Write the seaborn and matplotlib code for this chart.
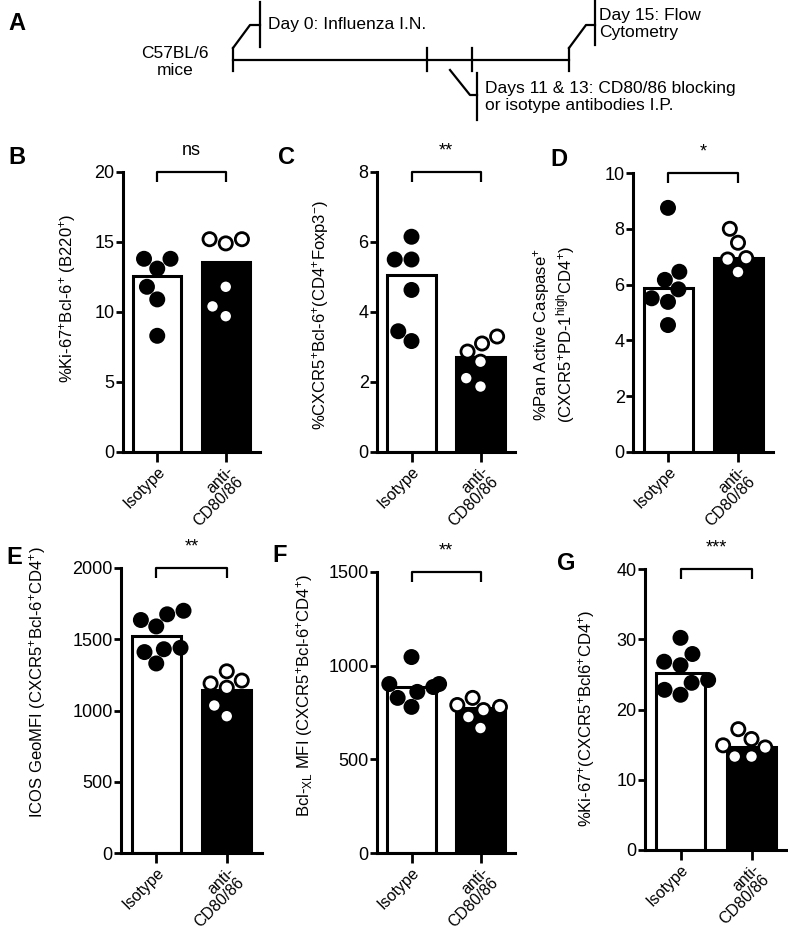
import matplotlib
matplotlib.use('Agg')
import matplotlib.pyplot as plt
import numpy as np
import pandas as pd
import seaborn as sns

groups = ['Isotype', 'anti-\nCD80/86']

# B: %Ki-67+Bcl-6+ (B220+)
b_iso = [13.8, 13.8, 13.1, 11.8, 10.9, 8.3]
b_anti = [15.2, 14.9, 15.2, 11.8, 10.4, 9.7]
b_bars = [12.6, 13.6]
b_ticks = [0, 5, 10, 15, 20]

# C: %CXCR5+Bcl-6+ (CD4+Foxp3-)
c_iso = [6.15, 5.5, 5.5, 4.63, 3.45, 3.17]
c_anti = [3.3, 3.1, 2.87, 2.58, 2.11, 1.87]
c_bars = [5.05, 2.72]
c_ticks = [0, 2, 4, 6, 8]

# D: %Pan Active Caspase+
d_iso = [8.75, 6.46, 6.17, 5.83, 5.51, 5.38, 4.55]
d_anti = [8.0, 7.5, 6.95, 6.9, 6.45]
d_bars = [5.88, 6.95]
d_ticks = [0, 2, 4, 6, 8, 10]

# E: ICOS GeoMFI
e_iso = [1700, 1675, 1635, 1590, 1440, 1430, 1410, 1330]
e_anti = [1275, 1210, 1190, 1160, 1035, 960]
e_bars = [1520, 1145]
e_ticks = [0, 500, 1000, 1500, 2000]

# F: Bcl-XL MFI
f_iso = [1046, 902, 902, 886, 860, 828, 780]
f_anti = [828, 790, 780, 763, 726, 667]
f_bars = [888, 775]
f_ticks = [0, 500, 1000, 1500]

# G: %Ki-67+ (CXCR5+Bcl6+CD4+)
g_iso = [30.2, 27.9, 26.8, 26.3, 24.2, 23.8, 22.8, 22.1]
g_anti = [17.2, 15.8, 14.9, 14.6, 13.3, 13.3]
g_bars = [25.2, 14.7]
g_ticks = [0, 10, 20, 30, 40]

plt.rcParams['font.family'] = ['Liberation Sans', 'DejaVu Sans']
plt.rcParams['mathtext.fontset'] = 'custom'
plt.rcParams['mathtext.rm'] = 'Liberation Sans'
plt.rcParams['mathtext.it'] = 'Liberation Sans'
plt.rcParams['mathtext.default'] = 'regular'

W, H = 788, 932
fig = plt.figure(figsize=(W / 100, H / 100), dpi=100)

bar_colors = {groups[0]: 'white', groups[1]: 'black'}
dot_colors = {groups[0]: 'black', groups[1]: 'white'}


def px_axes(left, top, right, bottom):
    return fig.add_axes([left / W, 1 - bottom / H, (right - left) / W, (bottom - top) / H])


def draw_panel(ax, iso, anti, bars, ticks, ylabel, star, lab_x, lab_y):
    bar_df = pd.DataFrame({'group': groups, 'value': bars})
    sns.barplot(data=bar_df, x='group', y='value', hue='group', order=groups,
                palette=bar_colors, edgecolor='black', linewidth=2.2, width=0.7,
                errorbar=None, legend=False, ax=ax, zorder=2)
    pts = pd.DataFrame({'group': [groups[0]] * len(iso) + [groups[1]] * len(anti),
                        'value': iso + anti})
    sns.swarmplot(data=pts, x='group', y='value', hue='group', order=groups,
                  palette=dot_colors, edgecolor='black', linewidth=2.0, size=9.5,
                  legend=False, ax=ax, zorder=3)
    ymax = ticks[-1]
    ax.set_xlim(-0.5, 1.5)
    ax.set_ylim(0, ymax)
    ax.set_yticks(ticks)
    ax.set_xticks([0, 1])
    ax.set_xticklabels(groups, rotation=45, ha='right', rotation_mode='anchor',
                       fontsize=11.5, linespacing=0.88)
    ax.tick_params(axis='y', labelsize=13, length=5, width=2, pad=1)
    ax.tick_params(axis='x', length=7, width=2, pad=1.5)
    for s in ['top', 'right']:
        ax.spines[s].set_visible(False)
    for s in ['left', 'bottom']:
        ax.spines[s].set_linewidth(2.2)
    ax.set_xlabel('')
    ax.set_ylabel(ylabel, fontsize=12, linespacing=1.1)
    ax.yaxis.set_label_coords(lab_x, lab_y)
    # significance bracket
    tr = ax.get_xaxis_transform()
    ax.plot([0, 0, 1, 1], [0.965, 1, 1, 0.965], color='black', lw=1.6,
            transform=tr, clip_on=False, solid_capstyle='butt')
    ax.text(0.5, 1.045, star, transform=tr, ha='center', va='bottom', fontsize=13)


panels = [
    ('B', (123, 172, 260, 452), b_iso, b_anti, b_bars, b_ticks,
     r'%Ki-67$^{+}$Bcl-6$^{+}$ (B220$^{+}$)', 'ns', -0.33, 0.55, (8, 157)),
    ('C', (377, 172, 515, 452), c_iso, c_anti, c_bars, c_ticks,
     r'%CXCR5$^{+}$Bcl-6$^{+}$(CD4$^{+}$Foxp3$^{-}$)', '**', -0.33, 0.49, (278, 157)),
    ('D', (633, 173, 773, 452), d_iso, d_anti, d_bars, d_ticks,
     '%Pan Active Caspase$^{+}$\n(CXCR5$^{+}$PD-1$^{high}$CD4$^{+}$)', '*', -0.40, 0.42, (550, 160)),
    ('E', (121, 568, 262, 853), e_iso, e_anti, e_bars, e_ticks,
     r'ICOS GeoMFI (CXCR5$^{+}$Bcl-6$^{+}$CD4$^{+}$)', '**', -0.52, 0.60, (6, 558)),
    ('F', (377, 572, 515, 853), f_iso, f_anti, f_bars, f_ticks,
     r'Bcl-$_{XL}$ MFI (CXCR5$^{+}$Bcl-6$^{+}$CD4$^{+}$)', '**', -0.45, 0.56, (272, 555)),
    ('G', (645, 569, 787, 850), g_iso, g_anti, g_bars, g_ticks,
     r'%Ki-67$^{+}$(CXCR5$^{+}$Bcl6$^{+}$CD4$^{+}$)', '***', -0.34, 0.47, (557, 563)),
]

for letter, box, iso, anti, bars, ticks, ylabel, star, lx, ly, lpos in panels:
    ax = px_axes(*box)
    draw_panel(ax, iso, anti, bars, ticks, ylabel, star, lx, ly)
    fig.text(lpos[0] / W, 1 - lpos[1] / H, letter, fontsize=17, fontweight='bold',
             ha='left', va='center')

# panel A: timeline schematic, drawn in pixel space
ta = fig.add_axes([0, 0, 1, 1], zorder=-1)
ta.set_xlim(0, W)
ta.set_ylim(H, 0)
ta.axis('off')
lw = 1.6
ta.plot([233, 569], [60, 60], color='black', lw=lw)
for x in [233, 427, 472, 569]:
    ta.plot([x, x], [48, 71], color='black', lw=lw)
ta.plot([233, 250, 260], [48, 25, 25], color='black', lw=lw)
ta.plot([260, 260], [2, 47], color='black', lw=lw)
ta.plot([569, 586, 595], [48, 25, 25], color='black', lw=lw)
ta.plot([595, 595], [0, 45], color='black', lw=lw)
ta.plot([450, 470, 477], [70, 95, 95], color='black', lw=lw)
ta.plot([477, 477], [73, 120], color='black', lw=lw)
ta.text(268, 25, 'Day 0: Influenza I.N.', fontsize=12.5, va='center', ha='left')
ta.text(599, 24, 'Day 15: Flow\nCytometry', fontsize=12.5, va='center', ha='left',
        linespacing=1.2)
ta.text(485, 97, 'Days 11 & 13: CD80/86 blocking\nor isotype antibodies I.P.',
        fontsize=12.5, va='center', ha='left', linespacing=1.2)
ta.text(175, 62, 'C57BL/6\nmice', fontsize=12.5, va='center', ha='center',
        linespacing=1.2)
ta.text(8, 23, 'A', fontsize=17, fontweight='bold', ha='left', va='center')

fig.savefig('out.png', dpi=100)
